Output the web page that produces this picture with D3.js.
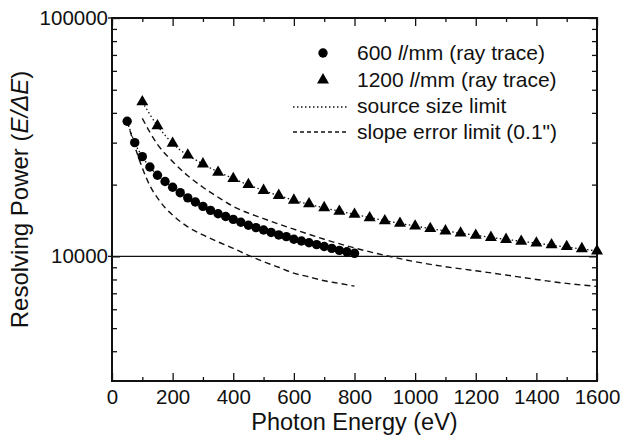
<!DOCTYPE html>
<html><head>
<meta charset="UTF-8">
<title>Resolving power vs photon energy</title>
<script src="https://d3js.org/d3.v7.min.js"></script>
<style>
  body { margin: 0; background: #fff; }
  svg text { font-family: "Liberation Sans", Arial, Helvetica, sans-serif; fill: #111; }
  .tick line { stroke: #111; stroke-width: 1.3px; }
  .domain { display: none; }
</style>
</head>
<body>
<script>

// ray trace points, 600 l/mm grating (eV, E/dE)
var energy600 = [50,75,100,125,150,175,200,225,250,275,300,325,350,375,400,425,450,475,500,525,550,575,600,625,650,675,700,725,750,775,800];
var power600  = [36900,30000,26200,23700,21900,20600,19500,18500,17600,16900,16200,15600,15100,14700,14300,13900,13500,13200,12900,12600,12300,12100,11800,11600,11400,11200,11000,10800,10600,10450,10300];

// ray trace points, 1200 l/mm grating
var energy1200 = [100,150,200,250,300,350,400,450,500,550,600,650,700,750,800,850,900,950,1000,1050,1100,1150,1200,1250,1300,1350,1400,1450,1500,1550,1600];
var power1200  = [44500,35300,29800,26600,24400,22500,21200,20000,18900,18000,17200,16600,16000,15450,15000,14500,14100,13750,13400,13070,12780,12520,12250,12000,11770,11560,11360,11170,10990,10760,10530];

// source size limit (dotted)
var srcEnergy600 = [50,75,100,150,200,300,400,500,600,700,800];
var srcPower600  = [36900,30000,26200,21900,19500,16200,14300,12900,11800,11000,10300];
var srcEnergy1200 = [100,150,200,300,400,500,600,800,1000,1200,1400,1600];
var srcPower1200  = [44500,35300,29800,24400,21200,18900,17200,15000,13400,12250,11360,10530];

// slope error limit 0.1" (dashed)
var slopeEnergy600 = [50,75,100,125,150,175,200,250,300,350,400,450,500,550,600,650,700,750,800];
var slopePower600  = [37000,29000,23500,19800,17600,16000,14900,13300,12300,11500,10800,10100,9500,9000,8500,8200,7900,7700,7500];
var slopeEnergy1200 = [100,150,200,250,300,350,400,500,600,700,800,900,1000,1100,1200,1300,1400,1500,1600];
var slopePower1200  = [37900,29500,25000,21800,19500,17700,16200,14400,13000,11800,10850,10100,9500,9050,8700,8350,8000,7700,7480];

// axis ticks
var xMajor = [0,200,400,600,800,1000,1200,1400,1600];
var xMinor = [100,300,500,700,900,1100,1300,1500];
var yMajor = [10000,100000];
var yMinor = [4000,5000,6000,7000,8000,9000,20000,30000,40000,50000,60000,70000,80000,90000];

var W = 624, H = 443;
var plotL = 112, plotR = 597, plotT = 18, plotB = 381;

var svg = d3.select("body").append("svg")
    .attr("width", W)
    .attr("height", H);

var x = d3.scaleLinear().domain([0, 1600]).range([plotL, plotR]);
var y = d3.scaleLog().domain([3000, 100000]).range([plotB, plotT]);

function zip(a, b) { return a.map(function(v, i) { return [v, b[i]]; }); }

// 10000 reference line
svg.append("line")
    .attr("x1", plotL).attr("x2", plotR)
    .attr("y1", y(10000)).attr("y2", y(10000))
    .attr("stroke", "#111").attr("stroke-width", 1.1);

// axes (ticks inward)
svg.append("g").attr("transform", "translate(0," + plotB + ")")
    .call(d3.axisBottom(x).tickValues(xMajor).tickSize(-8).tickPadding(8.5).tickFormat(d3.format("d")));
svg.append("g").attr("transform", "translate(0," + plotB + ")")
    .call(d3.axisBottom(x).tickValues(xMinor).tickSize(-4).tickFormat(""));
svg.append("g").attr("transform", "translate(0," + plotT + ")")
    .call(d3.axisTop(x).tickValues(xMajor).tickSize(-8).tickFormat(""));
svg.append("g").attr("transform", "translate(0," + plotT + ")")
    .call(d3.axisTop(x).tickValues(xMinor).tickSize(-4).tickFormat(""));

svg.append("g").attr("transform", "translate(" + plotL + ",0)")
    .call(d3.axisLeft(y).tickValues(yMajor).tickSize(-8).tickPadding(4).tickFormat(d3.format("d")));
svg.append("g").attr("transform", "translate(" + plotL + ",0)")
    .call(d3.axisLeft(y).tickValues(yMinor).tickSize(-5).tickFormat(""));
svg.append("g").attr("transform", "translate(" + plotR + ",0)")
    .call(d3.axisRight(y).tickValues(yMajor).tickSize(-8).tickFormat(""));
svg.append("g").attr("transform", "translate(" + plotR + ",0)")
    .call(d3.axisRight(y).tickValues(yMinor).tickSize(-5).tickFormat(""));

// small outward stubs at the labelled y ticks
svg.selectAll(".ystub").data(yMajor).enter().append("line")
    .attr("x1", plotL - 4).attr("x2", plotL)
    .attr("y1", function(d) { return y(d); }).attr("y2", function(d) { return y(d); })
    .attr("stroke", "#111").attr("stroke-width", 1.3);

svg.selectAll(".tick text").style("font-size", "20.5px");

// frame
svg.append("rect")
    .attr("x", plotL).attr("y", plotT)
    .attr("width", plotR - plotL).attr("height", plotB - plotT)
    .attr("fill", "none").attr("stroke", "#111").attr("stroke-width", 2);

var line = d3.line()
    .x(function(d) { return x(d[0]); })
    .y(function(d) { return y(d[1]); })
    .curve(d3.curveMonotoneX);

// slope error limit
[zip(slopeEnergy600, slopePower600), zip(slopeEnergy1200, slopePower1200)].forEach(function(s) {
  svg.append("path").datum(s)
    .attr("d", line)
    .attr("fill", "none").attr("stroke", "#111")
    .attr("stroke-width", 1.4).attr("stroke-dasharray", "6,4");
});

// source size limit
[zip(srcEnergy600, srcPower600), zip(srcEnergy1200, srcPower1200)].forEach(function(s) {
  svg.append("path").datum(s)
    .attr("d", line)
    .attr("fill", "none").attr("stroke", "#111")
    .attr("stroke-width", 1.3).attr("stroke-dasharray", "1.5,2.5");
});

// markers
var tri = d3.symbol().type(d3.symbolTriangle).size(62);

svg.selectAll(".c600").data(zip(energy600, power600)).enter().append("circle")
    .attr("cx", function(d) { return x(d[0]); })
    .attr("cy", function(d) { return y(d[1]); })
    .attr("r", 4.7)
    .attr("fill", "#000");

svg.selectAll(".t1200").data(zip(energy1200, power1200)).enter().append("path")
    .attr("d", tri)
    .attr("transform", function(d) { return "translate(" + x(d[0]) + "," + y(d[1]) + ")"; })
    .attr("fill", "#000");

// legend
var lg = svg.append("g").style("font-size", "21px");
lg.append("circle").attr("cx", 323).attr("cy", 53).attr("r", 4.7).attr("fill", "#000");
lg.append("path").attr("d", tri).attr("transform", "translate(323,80)").attr("fill", "#000");
lg.append("line").attr("x1", 293).attr("x2", 349).attr("y1", 107).attr("y2", 107)
    .attr("stroke", "#111").attr("stroke-width", 1.3).attr("stroke-dasharray", "1.5,2.5");
lg.append("line").attr("x1", 293).attr("x2", 349).attr("y1", 132).attr("y2", 132)
    .attr("stroke", "#111").attr("stroke-width", 1.3).attr("stroke-dasharray", "4,3");

var t1 = lg.append("text").attr("x", 357).attr("y", 60);
t1.append("tspan").text("600 ");
t1.append("tspan").style("font-style", "italic").text("l");
t1.append("tspan").text("/mm (ray trace)");

var t2 = lg.append("text").attr("x", 357).attr("y", 87);
t2.append("tspan").text("1200 ");
t2.append("tspan").style("font-style", "italic").text("l");
t2.append("tspan").text("/mm (ray trace)");

lg.append("text").attr("x", 357).attr("y", 113).text("source size limit");
lg.append("text").attr("x", 357).attr("y", 139).text("slope error limit (0.1\")");

// axis titles
svg.append("text")
    .attr("x", (plotL + plotR) / 2).attr("y", 430)
    .attr("text-anchor", "middle")
    .style("font-size", "23.5px")
    .text("Photon Energy (eV)");

var yt = svg.append("text")
    .attr("transform", "translate(28," + ((plotT + plotB) / 2) + ") rotate(-90)")
    .attr("text-anchor", "middle")
    .style("font-size", "24px");
yt.append("tspan").text("Resolving Power (");
yt.append("tspan").style("font-style", "italic").text("E/\u0394E");
yt.append("tspan").text(")");

</script>
</body>
</html>
